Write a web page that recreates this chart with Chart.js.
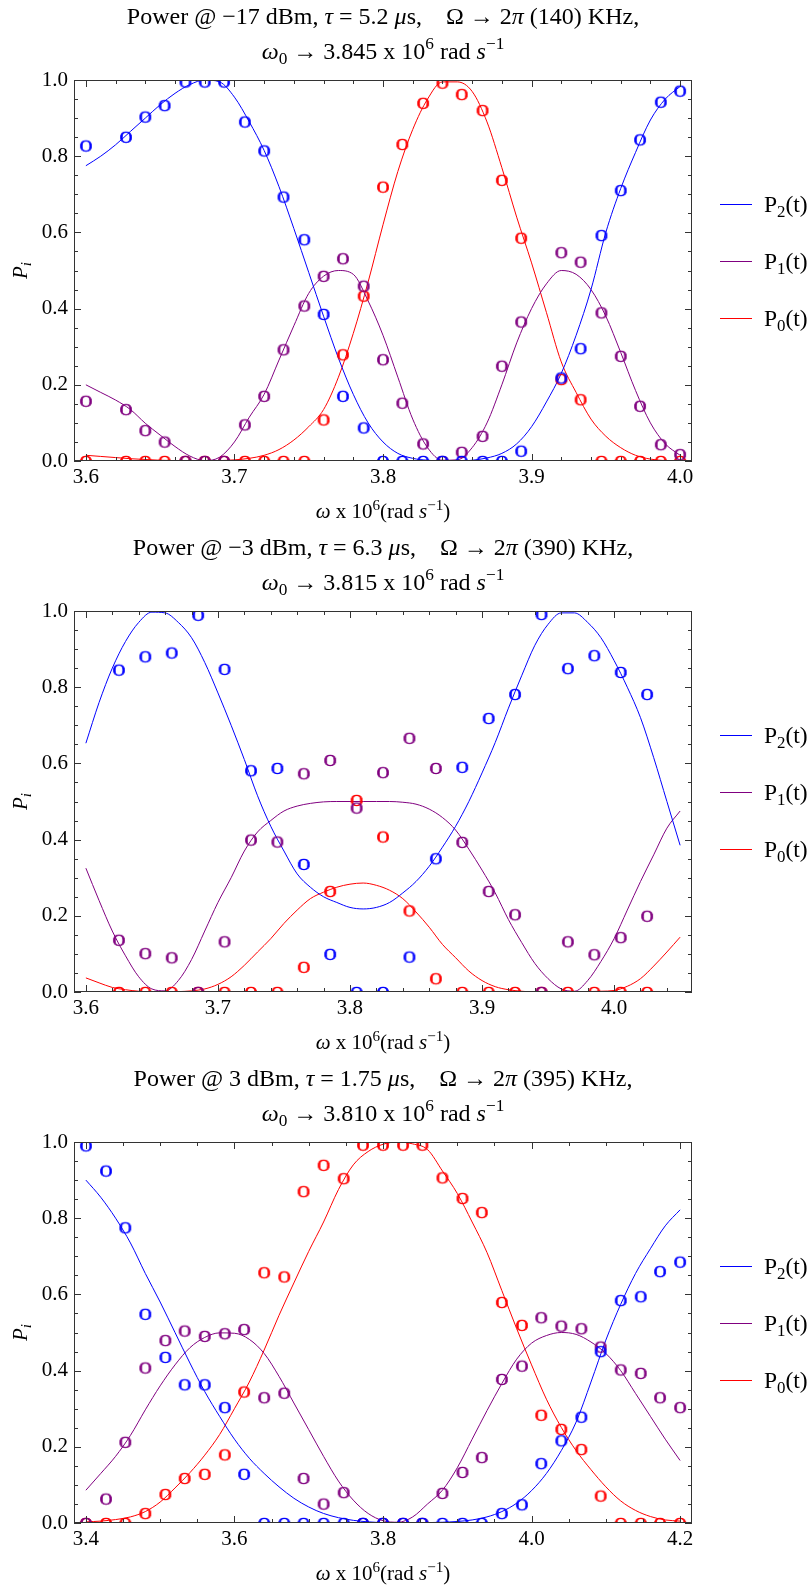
<!DOCTYPE html>
<html>
<head>
<meta charset="utf-8">
<title>Level populations vs. drive frequency</title>
<script src="https://cdn.jsdelivr.net/npm/chart.js@4.4.1/dist/chart.umd.min.js"></script>
<style>
  html, body { margin: 0; padding: 0; background: #fff; }
  canvas { display: block; }
</style>
</head>
<body>
<canvas id="c1" width="812" height="531"></canvas>
<canvas id="c2" width="812" height="531"></canvas>
<canvas id="c3" width="812" height="531"></canvas>
<script>
const SERIF = '"Liberation Serif", "Times New Roman", serif';
const BLUE = '#0000ff', PURPLE = '#800080', RED = '#ff0000';

// ---------- panel 1: -17 dBm ----------
const obsX1 = [3.600, 3.627, 3.640, 3.653, 3.667, 3.680, 3.693, 3.707, 3.720, 3.733, 3.747, 3.760, 3.773, 3.787, 3.800,
  3.813, 3.827, 3.840, 3.853, 3.867, 3.880, 3.893, 3.920, 3.933, 3.947, 3.960, 3.973, 3.987, 4.000];
const obsP2_1 = [0.828, 0.851, 0.904, 0.934, 0.996, 0.996, 0.996, 0.891, 0.815, 0.694, 0.582, 0.386, 0.171, 0.088, 0,
  0, 0, 0, 0, 0, 0, 0.027, 0.219, 0.296, 0.593, 0.711, 0.844, 0.943, 0.972];
const obsP1_1 = [0.158, 0.136, 0.081, 0.051, 0, 0, 0, 0.096, 0.171, 0.293, 0.408, 0.486, 0.532, 0.460, 0.267,
  0.153, 0.046, 0, 0.024, 0.066, 0.250, 0.366, 0.548, 0.523, 0.390, 0.276, 0.145, 0.044, 0.018];
const obsP0_1 = [0, 0, 0, 0, 0, 0, 0, 0, 0, 0, 0, 0.109, 0.280, 0.434, 0.720,
  0.832, 0.940, 0.993, 0.963, 0.921, 0.738, 0.586, 0.215, 0.162, 0, 0, 0, 0, 0];

const fitX1 = [3.60, 3.61, 3.62, 3.63, 3.64, 3.65, 3.66, 3.67, 3.68, 3.69, 3.70, 3.71, 3.72, 3.73, 3.74, 3.75, 3.76, 3.77,
  3.78, 3.79, 3.80, 3.81, 3.82, 3.83, 3.84, 3.85, 3.86, 3.87, 3.88, 3.89, 3.90, 3.91, 3.92, 3.93, 3.94, 3.95, 3.96, 3.97,
  3.98, 3.99, 4.00];
const fitP2_1 = [0.775, 0.80, 0.83, 0.865, 0.90, 0.935, 0.965, 0.988, 1.0, 0.995, 0.955, 0.89, 0.815, 0.72, 0.61, 0.495,
  0.38, 0.27, 0.175, 0.10, 0.05, 0.02, 0.007, 0.002, 0, 0, 0.002, 0.008, 0.02, 0.045, 0.09, 0.155, 0.23, 0.33, 0.45, 0.60,
  0.715, 0.81, 0.895, 0.95, 0.983];
const fitP1_1 = [0.20, 0.18, 0.16, 0.135, 0.099, 0.068, 0.038, 0.013, 0.001, 0.01, 0.05, 0.115, 0.175, 0.265, 0.355, 0.44,
  0.485, 0.50, 0.49, 0.42, 0.33, 0.22, 0.11, 0.035, 0.002, 0.003, 0.035, 0.10, 0.20, 0.31, 0.40, 0.465, 0.50, 0.49, 0.45,
  0.38, 0.285, 0.185, 0.10, 0.045, 0.015];
const fitP0_1 = [0.015, 0.012, 0.009, 0.006, 0.004, 0.002, 0.001, 0, 0, 0.001, 0.003, 0.007, 0.015, 0.03, 0.055, 0.09,
  0.135, 0.22, 0.335, 0.47, 0.62, 0.76, 0.87, 0.95, 0.995, 0.995, 0.97, 0.89, 0.77, 0.64, 0.52, 0.39, 0.26, 0.18, 0.11,
  0.065, 0.035, 0.015, 0.005, 0.001, 0];

// ---------- panel 2: -3 dBm ----------
const obsX2 = [3.625, 3.645, 3.665, 3.685, 3.705, 3.725, 3.745, 3.765, 3.785, 3.805, 3.825, 3.845, 3.865, 3.885, 3.905,
  3.925, 3.945, 3.965, 3.985, 4.005, 4.025];
const obsP2_2 = [0.846, 0.881, 0.891, 0.990, 0.848, 0.582, 0.588, 0.336, 0.100, 0, 0, 0.093, 0.351, 0.591, 0.719,
  0.782, 0.992, 0.850, 0.884, 0.840, 0.782];
const obsP1_2 = [0.137, 0.102, 0.091, 0, 0.133, 0.400, 0.395, 0.574, 0.609, 0.484, 0.577, 0.667, 0.588, 0.394, 0.265,
  0.204, 0, 0.133, 0.099, 0.144, 0.200];
const obsP0_2 = [0, 0, 0, 0, 0, 0, 0, 0.066, 0.265, 0.504, 0.408, 0.214, 0.036, 0, 0,
  0, 0, 0, 0, 0, 0];

const fitX2 = [3.60, 3.61, 3.62, 3.63, 3.64, 3.65, 3.66, 3.67, 3.68, 3.69, 3.70, 3.71, 3.72, 3.73, 3.74, 3.75, 3.76, 3.77,
  3.78, 3.79, 3.80, 3.81, 3.82, 3.83, 3.84, 3.85, 3.86, 3.87, 3.88, 3.89, 3.90, 3.91, 3.92, 3.93, 3.94, 3.95, 3.96, 3.97,
  3.98, 3.99, 4.00, 4.01, 4.02, 4.03, 4.04, 4.05];
const fitP2_2 = [0.653, 0.76, 0.85, 0.92, 0.97, 0.997, 0.995, 0.97, 0.93, 0.865, 0.785, 0.70, 0.61, 0.515, 0.435, 0.37,
  0.31, 0.275, 0.25, 0.235, 0.222, 0.218, 0.222, 0.235, 0.26, 0.29, 0.33, 0.38, 0.435, 0.50, 0.575, 0.655, 0.745, 0.83,
  0.91, 0.965, 0.995, 0.995, 0.97, 0.93, 0.87, 0.80, 0.72, 0.615, 0.50, 0.385];
const fitP1_2 = [0.325, 0.24, 0.16, 0.095, 0.04, 0.008, 0.003, 0.03, 0.085, 0.16, 0.235, 0.30, 0.37, 0.42, 0.45, 0.475,
  0.488, 0.495, 0.499, 0.50, 0.50, 0.50, 0.50, 0.50, 0.498, 0.493, 0.48, 0.458, 0.425, 0.375, 0.32, 0.26, 0.19, 0.13,
  0.075, 0.035, 0.008, 0.002, 0.03, 0.08, 0.14, 0.215, 0.29, 0.36, 0.43, 0.475];
const fitP0_2 = [0.037, 0.024, 0.012, 0.006, 0.002, 0, 0, 0.001, 0.003, 0.008, 0.02, 0.04, 0.07, 0.105, 0.14, 0.18,
  0.215, 0.245, 0.262, 0.275, 0.283, 0.286, 0.28, 0.267, 0.245, 0.21, 0.17, 0.125, 0.09, 0.055, 0.03, 0.014, 0.006,
  0.002, 0, 0, 0, 0, 0.001, 0.002, 0.004, 0.015, 0.035, 0.068, 0.105, 0.144];

// ---------- panel 3: 3 dBm ----------
const obsX3 = [3.400, 3.427, 3.453, 3.480, 3.507, 3.533, 3.560, 3.587, 3.613, 3.640, 3.667, 3.693, 3.720, 3.747, 3.773,
  3.800, 3.827, 3.853, 3.880, 3.907, 3.933, 3.960, 3.987, 4.013, 4.040, 4.067, 4.093, 4.120, 4.147, 4.173, 4.200];
const obsP2_3 = [0.991, 0.925, 0.776, 0.549, 0.436, 0.364, 0.364, 0.304, 0.129, 0, 0, 0, 0, 0, 0,
  0, 0, 0, 0, 0, 0, 0.026, 0.049, 0.157, 0.217, 0.279, 0.451, 0.585, 0.595, 0.661, 0.686];
const obsP1_3 = [0, 0.064, 0.213, 0.408, 0.480, 0.505, 0.491, 0.498, 0.509, 0.330, 0.342, 0.118, 0.051, 0.081, 0,
  0, 0, 0, 0.079, 0.134, 0.173, 0.378, 0.413, 0.540, 0.518, 0.511, 0.463, 0.403, 0.394, 0.330, 0.304];
const obsP0_3 = [0, 0, 0, 0.026, 0.076, 0.118, 0.129, 0.180, 0.345, 0.658, 0.647, 0.871, 0.940, 0.905, 0.993,
  0.993, 0.993, 0.993, 0.907, 0.853, 0.816, 0.580, 0.520, 0.284, 0.247, 0.194, 0.072, 0, 0, 0, 0];

const fitX3 = [3.40, 3.42, 3.44, 3.46, 3.48, 3.50, 3.52, 3.54, 3.56, 3.58, 3.60, 3.62, 3.64, 3.66, 3.68, 3.70, 3.72, 3.74,
  3.76, 3.78, 3.80, 3.82, 3.84, 3.86, 3.88, 3.90, 3.92, 3.94, 3.96, 3.98, 4.00, 4.02, 4.04, 4.06, 4.08, 4.10, 4.12, 4.14,
  4.16, 4.18, 4.20];
const fitP2_3 = [0.90, 0.855, 0.80, 0.735, 0.655, 0.58, 0.50, 0.42, 0.345, 0.28, 0.22, 0.17, 0.13, 0.095, 0.065, 0.042,
  0.025, 0.014, 0.007, 0.003, 0.001, 0, 0, 0.001, 0.002, 0.004, 0.008, 0.016, 0.03, 0.052, 0.085, 0.13, 0.19, 0.265, 0.37,
  0.48, 0.574, 0.655, 0.72, 0.78, 0.822];
const fitP1_3 = [0.086, 0.13, 0.175, 0.23, 0.297, 0.36, 0.415, 0.46, 0.487, 0.499, 0.498, 0.482, 0.445, 0.385, 0.315,
  0.245, 0.175, 0.11, 0.06, 0.025, 0.006, 0.002, 0.016, 0.05, 0.086, 0.145, 0.22, 0.295, 0.366, 0.43, 0.472, 0.492, 0.50,
  0.495, 0.475, 0.445, 0.40, 0.34, 0.28, 0.22, 0.164];
const fitP0_3 = [0.003, 0.005, 0.009, 0.016, 0.03, 0.055, 0.092, 0.132, 0.178, 0.232, 0.30, 0.37, 0.454, 0.545, 0.63,
  0.713, 0.79, 0.875, 0.94, 0.975, 0.994, 1.0, 0.995, 0.98, 0.924, 0.865, 0.79, 0.71, 0.61, 0.51, 0.415, 0.325, 0.251,
  0.19, 0.14, 0.095, 0.058, 0.033, 0.017, 0.008, 0.005];

// axis ticks
const xTicks12 = [3.6, 3.7, 3.8, 3.9, 4.0];
const xTicks3 = [3.4, 3.6, 3.8, 4.0, 4.2];

// titles as runs: '' roman, 'i' italic, 'sup' / 'sub' small raised / lowered
const title1 = [
  [['Power @ −17 dBm, ', ''], ['τ', 'i'], [' = 5.2 ', ''], ['μ', 'i'], ['s,    Ω → 2', ''], ['π', 'i'], [' (140) KHz,', '']],
  [['ω', 'i'], ['0', 'sub'], [' → 3.845 x 10', ''], ['6', 'sup'], [' rad ', ''], ['s', 'i'], ['−1', 'sup']]
];
const title2 = [
  [['Power @ −3 dBm, ', ''], ['τ', 'i'], [' = 6.3 ', ''], ['μ', 'i'], ['s,    Ω → 2', ''], ['π', 'i'], [' (390) KHz,', '']],
  [['ω', 'i'], ['0', 'sub'], [' → 3.815 x 10', ''], ['6', 'sup'], [' rad ', ''], ['s', 'i'], ['−1', 'sup']]
];
const title3 = [
  [['Power @ 3 dBm, ', ''], ['τ', 'i'], [' = 1.75 ', ''], ['μ', 'i'], ['s,    Ω → 2', ''], ['π', 'i'], [' (395) KHz,', '']],
  [['ω', 'i'], ['0', 'sub'], [' → 3.810 x 10', ''], ['6', 'sup'], [' rad ', ''], ['s', 'i'], ['−1', 'sup']]
];
const xLabel = [['ω', 'i'], [' x 10', ''], ['6', 'sup'], ['(rad ', ''], ['s', 'i'], ['−1', 'sup'], [')', '']];
const yLabel = [['P', 'i'], ['i', 'isub']];

function drawRich(ctx, parts, x, y, size, align = 'center') {
  let w = 0;
  const runs = parts.map(([t, k]) => {
    const small = k.endsWith('sup') || k.endsWith('sub');
    const px = small ? size * 0.72 : size;
    const font = (k.startsWith('i') ? 'italic ' : '') + px.toFixed(1) + 'px ' + SERIF;
    ctx.font = font;
    const width = ctx.measureText(t).width;
    const dy = k.endsWith('sup') ? -size * 0.4 : k.endsWith('sub') ? size * 0.2 : 0;
    const run = { t, font, dy, at: w };
    w += width;
    return run;
  });
  const x0 = align === 'center' ? x - w / 2 : x;
  ctx.textAlign = 'left';
  ctx.textBaseline = 'alphabetic';
  runs.forEach(r => {
    ctx.font = r.font;
    ctx.fillText(r.t, x0 + r.at, y + r.dy);
  });
}

// 'P₂(t)' -> [['P',''],['2','sub'],['(t)','']]
function labelRuns(label) {
  const subs = '₀₁₂₃₄₅₆₇₈₉';
  const runs = [];
  for (const ch of label) {
    const i = subs.indexOf(ch);
    const kind = i >= 0 ? 'sub' : '';
    const t = i >= 0 ? String(i) : ch;
    const last = runs[runs.length - 1];
    if (last && last[1] === kind) last[0] += t; else runs.push([t, kind]);
  }
  return runs;
}

function stepValues(min, max, step) {
  const out = [];
  for (let k = Math.ceil(min / step - 1e-6); k * step <= max + 1e-9; k++) out.push(+(k * step).toFixed(4));
  return out;
}
function isMultiple(v, step) {
  const r = v / step;
  return Math.abs(r - Math.round(r)) < 1e-6;
}

// serif "O" used as the plot marker, slightly stroked so it reads at small size
function ringMarker(color) {
  const c = document.createElement('canvas');
  c.width = 22; c.height = 22;
  const g = c.getContext('2d');
  g.font = '17.5px ' + SERIF;
  g.fillStyle = color;
  g.strokeStyle = color;
  g.lineWidth = 0.7;
  g.textAlign = 'center';
  g.textBaseline = 'alphabetic';
  const m = g.measureText('O');
  const base = 11 + (m.actualBoundingBoxAscent - m.actualBoundingBoxDescent) / 2;
  g.fillText('O', 11, base);
  g.strokeText('O', 11, base);
  return c;
}

function observed(xs, ys, color) {
  return {
    data: xs.map((x, i) => ({ x, y: ys[i] })),
    showLine: false,
    pointStyle: ringMarker(color),
    pointRadius: 6,
    borderColor: color,
    clip: 0
  };
}
function fitted(label, xs, ys, color) {
  return {
    label,
    data: xs.map((x, i) => ({ x, y: ys[i] })),
    showLine: true,
    borderColor: color,
    borderWidth: 1,
    pointRadius: 0,
    cubicInterpolationMode: 'monotone',
    clip: 0
  };
}

function decorations(spec) {
  return {
    id: 'decor',
    afterDraw(chart) {
      const { ctx, chartArea: a, scales: { x, y } } = chart;
      ctx.save();

      // frame with inward ticks on all four sides
      ctx.strokeStyle = '#333';
      ctx.lineWidth = 1;
      ctx.strokeRect(a.left + 0.5, a.top + 0.5, a.right - a.left - 1, a.bottom - a.top - 1);
      ctx.beginPath();
      stepValues(x.min, x.max, spec.xMinor).forEach(v => {
        const px = Math.round(x.getPixelForValue(v)) + 0.5;
        const len = isMultiple(v, spec.xMajor) ? 7 : 4;
        ctx.moveTo(px, a.bottom); ctx.lineTo(px, a.bottom - len);
        ctx.moveTo(px, a.top); ctx.lineTo(px, a.top + len);
      });
      stepValues(0, 1, 0.05).forEach(v => {
        const py = Math.round(y.getPixelForValue(v)) + 0.5;
        const len = isMultiple(v, 0.2) ? 7 : 4;
        ctx.moveTo(a.left, py); ctx.lineTo(a.left + len, py);
        ctx.moveTo(a.right, py); ctx.lineTo(a.right - len, py);
      });
      ctx.stroke();

      // titles and axis labels
      ctx.fillStyle = '#000';
      const cx = (a.left + a.right) / 2;
      drawRich(ctx, spec.title[0], cx, 23.5, 24);
      drawRich(ctx, spec.title[1], cx, 59, 24);
      drawRich(ctx, xLabel, cx, a.bottom + 57, 21);
      ctx.save();
      ctx.translate(27, (a.top + a.bottom) / 2);
      ctx.rotate(-Math.PI / 2);
      drawRich(ctx, yLabel, 0, 0, 21);
      ctx.restore();

      // legend for the fitted curves
      const mid = (a.top + a.bottom) / 2 - 9.5;
      chart.data.datasets.filter(d => d.showLine).forEach((d, i) => {
        const ly = Math.round(mid + (i - 1) * 57) + 0.5;
        ctx.strokeStyle = d.borderColor;
        ctx.lineWidth = 1;
        ctx.beginPath();
        ctx.moveTo(720, ly); ctx.lineTo(752, ly);
        ctx.stroke();
        ctx.fillStyle = '#000';
        drawRich(ctx, labelRuns(d.label), 764, ly + 7.5, 23.5, 'left');
      });
      ctx.restore();
    }
  };
}

function renderPanel(spec) {
  const canvas = document.getElementById(spec.id);
  if (!canvas) {
    console.error('Canvas not found: ' + spec.id);
    return;
  }
  const [ox, o2, o1, o0] = spec.obs;
  const [fx, f2, f1, f0] = spec.fit;
  const tickFont = { family: SERIF, size: 21 };
  new Chart(canvas, {
    type: 'scatter',
    data: {
      datasets: [
        observed(ox, o2, BLUE),
        observed(ox, o1, PURPLE),
        observed(ox, o0, RED),
        fitted('P₂(t)', fx, f2, BLUE),
        fitted('P₁(t)', fx, f1, PURPLE),
        fitted('P₀(t)', fx, f0, RED)
      ]
    },
    options: {
      responsive: false,
      animation: false,
      events: [],
      layout: { padding: { top: 80, right: 120, left: 0, bottom: 0 } },
      plugins: { legend: { display: false }, tooltip: { enabled: false } },
      scales: {
        x: {
          type: 'linear',
          min: spec.xMin,
          max: spec.xMax,
          grid: { display: false, drawTicks: false },
          border: { display: false },
          afterBuildTicks: s => { s.ticks = spec.xTicks.map(v => ({ value: v })); },
          afterFit: s => { s.height = 70; },
          ticks: { font: tickFont, color: '#000', padding: 4, autoSkip: false, maxRotation: 0,
                   callback: v => Number(v).toFixed(1) }
        },
        y: {
          min: 0,
          max: 1,
          grid: { display: false, drawTicks: false },
          border: { display: false },
          afterFit: s => { s.width = 74; },
          ticks: { font: tickFont, color: '#000', padding: 6, stepSize: 0.2,
                   callback: v => Number(v).toFixed(1) }
        }
      }
    },
    plugins: [decorations(spec)]
  });
}

renderPanel({ id: 'c1', title: title1, xMin: 3.592, xMax: 4.008, xTicks: xTicks12, xMajor: 0.1, xMinor: 0.02,
  obs: [obsX1, obsP2_1, obsP1_1, obsP0_1], fit: [fitX1, fitP2_1, fitP1_1, fitP0_1] });
renderPanel({ id: 'c2', title: title2, xMin: 3.591, xMax: 4.059, xTicks: xTicks12, xMajor: 0.1, xMinor: 0.02,
  obs: [obsX2, obsP2_2, obsP1_2, obsP0_2], fit: [fitX2, fitP2_2, fitP1_2, fitP0_2] });
renderPanel({ id: 'c3', title: title3, xMin: 3.384, xMax: 4.216, xTicks: xTicks3, xMajor: 0.2, xMinor: 0.05,
  obs: [obsX3, obsP2_3, obsP1_3, obsP0_3], fit: [fitX3, fitP2_3, fitP1_3, fitP0_3] });
</script>
</body>
</html>
